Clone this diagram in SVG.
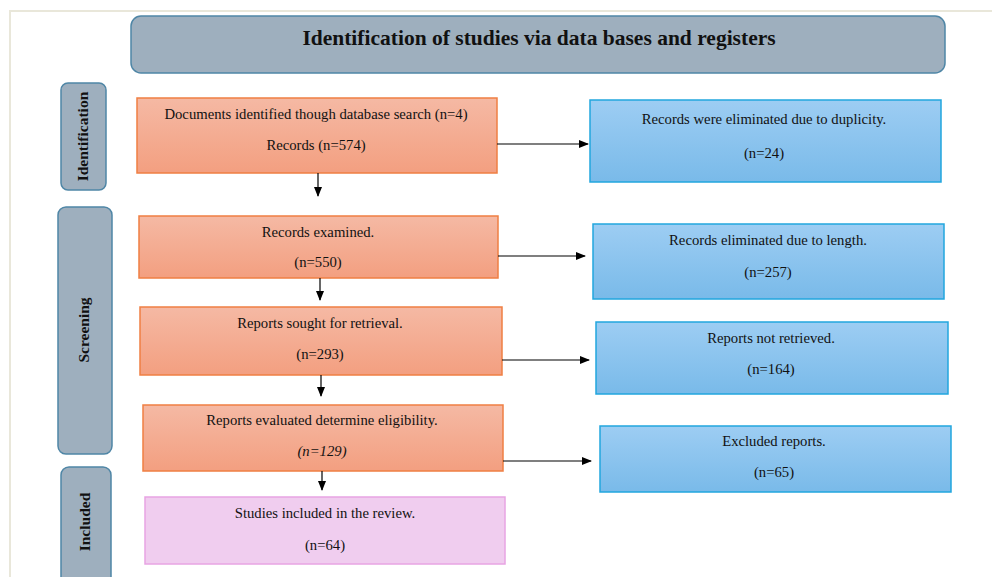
<svg xmlns="http://www.w3.org/2000/svg" width="992" height="577" viewBox="0 0 992 577">
<defs>
<linearGradient id="gO" x1="0" y1="0" x2="0" y2="1"><stop offset="0" stop-color="#f5b9a4"/><stop offset="1" stop-color="#f39f80"/></linearGradient>
<linearGradient id="gB" x1="0" y1="0" x2="0" y2="1"><stop offset="0" stop-color="#9dcdf3"/><stop offset="1" stop-color="#79bae9"/></linearGradient>
<marker id="ah" markerWidth="10" markerHeight="8" refX="9" refY="4" orient="auto" markerUnits="userSpaceOnUse"><path d="M0,0 L10,4 L0,8 Z" fill="#000"/></marker>
<style>
.frame{fill:none;stroke:#e9e7da;stroke-width:2}
.phase{fill:#9eafbe;stroke:#4f86a6;stroke-width:1.5}
.or{fill:url(#gO);stroke:#ef7f43;stroke-width:1.5}
.bl{fill:url(#gB);stroke:#22a6de;stroke-width:1.5}
.pk{fill:#f0cdef;stroke:#e8a4e3;stroke-width:1.5}
text{font-family:"Liberation Serif","Times New Roman",serif;fill:#111;text-anchor:middle}
.t{font-size:14.7px}
.ti{font-size:14.7px;font-style:italic}
.h{font-size:21.5px;font-weight:bold}
.s{font-size:15.5px;font-weight:bold}
.c{stroke:#000;stroke-width:1.2;fill:none;marker-end:url(#ah)}
</style>
</defs>
<rect width="992" height="577" fill="#fff"/>
<path class="frame" d="M10,577 V11 H992"/>
<g id="title"><rect class="phase" x="131" y="16" width="814" height="57" rx="10"/><text class="h" x="539" y="45">Identification of studies via data bases and registers</text></g>
<g id="phase-identification"><rect class="phase" x="61" y="83" width="45" height="107" rx="7"/><text class="s" transform="translate(88,136.5) rotate(-90)">Identification</text></g>
<g id="phase-screening"><rect class="phase" x="58" y="207" width="54" height="247" rx="8"/><text class="s" transform="translate(89,330) rotate(-90)">Screening</text></g>
<g id="phase-included"><rect class="phase" x="61" y="467" width="50" height="120" rx="8"/><text class="s" transform="translate(90,522) rotate(-90)">Included</text></g>
<g id="n1"><rect class="or" x="137" y="98" width="360" height="75"/><text class="t" x="316" y="119">Documents identified though database search (n=4)</text><text class="t" x="316" y="150">Records (n=574)</text></g>
<g id="n2"><rect class="or" x="139" y="216" width="359" height="62"/><text class="t" x="318" y="237">Records examined.</text><text class="t" x="318" y="267">(n=550)</text></g>
<g id="n3"><rect class="or" x="140" y="307" width="362" height="68"/><text class="t" x="320" y="328">Reports sought for retrieval.</text><text class="t" x="320" y="359">(n=293)</text></g>
<g id="n4"><rect class="or" x="143" y="405" width="360" height="66"/><text class="t" x="322" y="425">Reports evaluated determine eligibility.</text><text class="ti" x="322" y="456">(n=129)</text></g>
<g id="n5"><rect class="pk" x="145" y="497" width="360" height="67"/><text class="t" x="325" y="518">Studies included in the review.</text><text class="t" x="325" y="550">(n=64)</text></g>
<g id="b1"><rect class="bl" x="590" y="100" width="351" height="82"/><text class="t" x="764" y="124">Records were eliminated due to duplicity.</text><text class="t" x="764" y="158">(n=24)</text></g>
<g id="b2"><rect class="bl" x="593" y="224" width="351" height="75"/><text class="t" x="768" y="245">Records eliminated due to length.</text><text class="t" x="768" y="277">(n=257)</text></g>
<g id="b3"><rect class="bl" x="596" y="322" width="352" height="72"/><text class="t" x="771" y="343">Reports not retrieved.</text><text class="t" x="771" y="374">(n=164)</text></g>
<g id="b4"><rect class="bl" x="600" y="426" width="351" height="66"/><text class="t" x="774" y="446">Excluded reports.</text><text class="t" x="774" y="477">(n=65)</text></g>
<g id="connectors">
<path class="c" d="M497,144 H588"/>
<path class="c" d="M498,256 H585"/>
<path class="c" d="M502,360 H589"/>
<path class="c" d="M503,461 H591"/>
<path class="c" d="M318,173 V196"/>
<path class="c" d="M320,278 V300"/>
<path class="c" d="M321,375 V396"/>
<path class="c" d="M322,471 V490"/>
</g>
</svg>
